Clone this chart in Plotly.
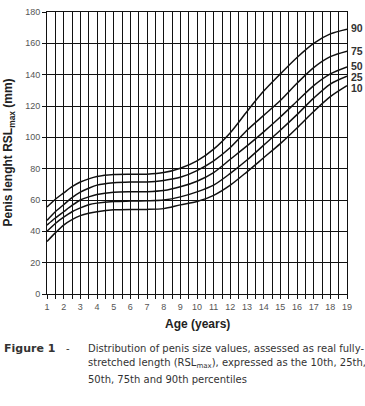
import plotly.graph_objects as go

# ---- data ----
ages = [1, 1.5, 2, 2.5, 3, 3.5, 4, 5, 6, 7, 8, 9, 10, 11, 12, 13, 14, 15, 16, 17, 18, 19]
p90 = [55.5, 60.5, 64.5, 68.5, 71.5, 73.5, 75, 76.3, 76.5, 76.5, 77.5, 80.3, 85, 92.5, 103, 116.5, 129.5, 140.5, 151, 160, 166, 169]
p75 = [47, 52.5, 57, 61.5, 65, 67.5, 69.5, 71, 71.5, 71.5, 72.5, 74.5, 78.8, 85, 93.5, 104.5, 114, 123.5, 134.5, 144.5, 151.5, 155]
p50 = [44, 48.5, 52.5, 56.5, 60, 62, 63.5, 65, 65.3, 65.3, 66, 68.4, 72, 77.5, 86, 94.5, 103.5, 113, 123, 133, 140.5, 145]
p25 = [40, 45, 49, 52.5, 55, 57, 58, 59, 59.3, 59.5, 60, 62, 65.2, 69.5, 77, 85.5, 95, 104.5, 114.5, 125, 134, 139]
p10 = [33.5, 39, 44, 47.5, 50, 51.5, 52.5, 53.7, 54, 54, 54.5, 56.9, 59, 63, 69.5, 78, 87, 96, 106, 116.5, 126, 133]
series_names = ["90", "75", "50", "25", "10"]
series_values = [p90, p75, p50, p25, p10]
label_y = [169.5, 155, 145.5, 138.5, 131.5]
x_ticks = list(range(1, 20))
y_ticks = list(range(0, 181, 20))

fig = go.Figure()
for name, vals, ly in zip(series_names, series_values, label_y):
    fig.add_trace(go.Scatter(x=ages, y=vals, mode="lines", name=name,
                             line=dict(color="#111111", width=1.5, shape="spline", smoothing=0.8),
                             showlegend=False, hoverinfo="skip"))
    fig.add_annotation(x=ages[-1], y=ly, xref="x", yref="y", text="<b>%s</b>" % name,
                       showarrow=False, xanchor="left", yanchor="middle", xshift=2,
                       font=dict(family="Liberation Sans", size=10.5, color="#333333"))

fig.update_xaxes(range=[1, 19], tickvals=x_ticks, ticktext=[str(t) for t in x_ticks],
                 showgrid=True, gridcolor="#111111", gridwidth=1,
                 minor=dict(dtick=0.5, tick0=1, showgrid=True, gridcolor="#111111", gridwidth=1,
                            ticks="outside", ticklen=4, tickcolor="#111111"),
                 showline=True, linecolor="#111111", linewidth=1, mirror=True,
                 ticks="outside", ticklen=4, tickcolor="#111111", zeroline=False,
                 tickfont=dict(family="Liberation Sans", size=9, color="#555555"))
fig.update_yaxes(range=[0, 180], tickvals=y_ticks,
                 showgrid=True, gridcolor="#111111", gridwidth=1,
                 showline=True, linecolor="#111111", linewidth=1, mirror=True,
                 ticks="outside", ticklen=4, tickcolor="#111111", zeroline=False,
                 tickfont=dict(family="Liberation Sans", size=9, color="#555555"))

L, R, T, B = 47, 18, 7, 112
W, H = 365, 406
pw, ph = W - L - R, H - T - B

def px(xp):
    return (xp - L) / pw

def py(yp):
    return (H - B - yp) / ph

# axis titles
fig.add_annotation(xref="paper", yref="paper", x=px(9), y=py(150), text="<b>Penis lenght RSL<sub>max</sub> (mm)</b>",
                   textangle=-90, showarrow=False, xanchor="center", yanchor="middle",
                   font=dict(family="Liberation Sans", size=12, color="#222222"))
fig.add_annotation(xref="paper", yref="paper", x=px(197), y=py(325), text="<b>Age (years)</b>",
                   showarrow=False, xanchor="center", yanchor="middle",
                   font=dict(family="Liberation Sans", size=12, color="#222222"))

# caption
cap_font = dict(family="DejaVu Sans", size=10, color="#333333")
fig.add_annotation(xref="paper", yref="paper", x=px(2), y=py(349), text="<b>Figure 1</b>",
                   showarrow=False, xanchor="left", yanchor="middle",
                   font=dict(family="DejaVu Sans", size=11, color="#333333"))
fig.add_annotation(xref="paper", yref="paper", x=px(64), y=py(349), text="-",
                   showarrow=False, xanchor="left", yanchor="middle", font=cap_font)
cap_lines = ["Distribution of penis size values, assessed as real fully-",
             "stretched length (RSL<sub>max</sub>), expressed as the 10th, 25th,",
             "50th, 75th and 90th percentiles"]
for i, line in enumerate(cap_lines):
    fig.add_annotation(xref="paper", yref="paper", x=px(86), y=py(349 + 16 * i), text=line,
                       showarrow=False, xanchor="left", yanchor="middle", font=cap_font)

fig.update_layout(width=W, height=H, margin=dict(l=L, r=R, t=T, b=B),
                  plot_bgcolor="white", paper_bgcolor="white")

fig.write_html("out.html", config={"displayModeBar": False},
               post_script="document.body.style.margin='0';")
